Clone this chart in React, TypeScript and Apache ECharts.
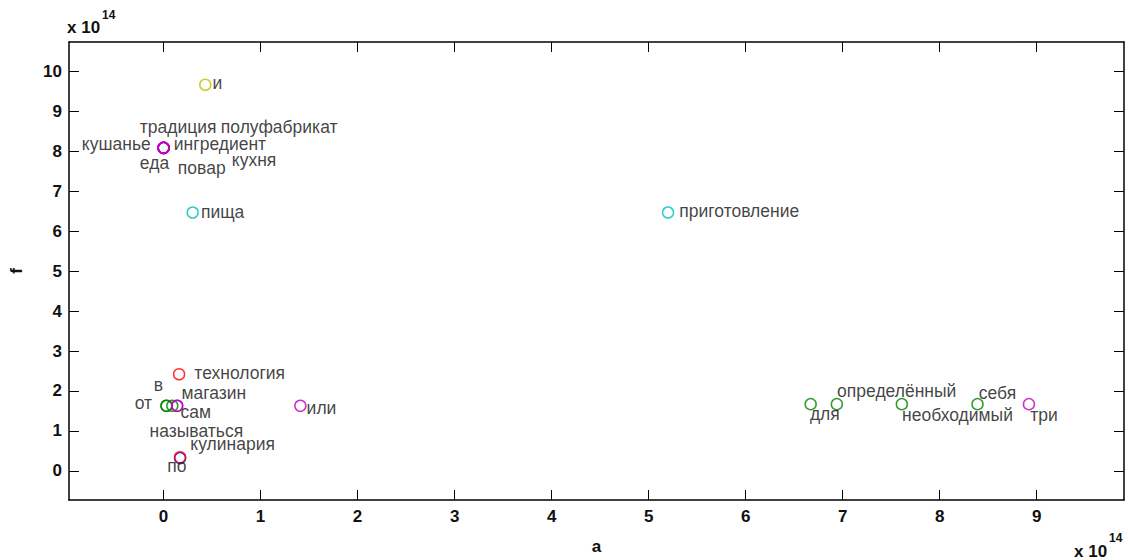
import React, { useEffect, useRef } from "react";
import * as echarts from "echarts";

// ---- data (values in units of 10^14) ----
const words = [
  "и",
  "традиция", "полуфабрикат", "кушанье", "ингредиент", "еда", "повар", "кухня",
  "пища", "приготовление",
  "технология",
  "в", "от", "называться",
  "магазин", "сам",
  "по", "кулинария",
  "или",
  "для", "определённый", "необходимый", "себя", "три",
];
const aValues = [
  0.43,
  0.0, 0.0, 0.0, 0.0, 0.0, 0.0, 0.0,
  0.30, 5.20,
  0.16,
  0.03, 0.03, 0.09,
  0.14, 0.14,
  0.17, 0.17,
  1.41,
  6.67, 6.94, 7.61, 8.39, 8.92,
];
const fValues = [
  9.67,
  8.09, 8.09, 8.09, 8.09, 8.09, 8.09, 8.09,
  6.47, 6.47,
  2.42,
  1.63, 1.63, 1.63,
  1.63, 1.63,
  0.32, 0.34,
  1.63,
  1.67, 1.67, 1.67, 1.67, 1.67,
];
// cluster id of each word
const clusters = [
  5,
  4, 4, 4, 4, 4, 4, 4,
  3, 3,
  2,
  1, 1, 1,
  4, 4,
  0, 2,
  4,
  1, 1, 1, 1, 4,
];
const xTicks = [0, 1, 2, 3, 4, 5, 6, 7, 8, 9];
const yTicks = [0, 1, 2, 3, 4, 5, 6, 7, 8, 9, 10];

// ---- presentation ----
const palette = ["#0000ff", "#008000", "#ff0000", "#00bfbf", "#bf00bf", "#bfbf00"];
// label offsets [dx, dy] from point centre to text left / middle
const labelOffsets: number[][] = [
  [8, -1],
  [-23, -20], [58, -20], [-81, -3], [11, -3], [-23, 16], [15, 21], [69, 13],
  [9, 0], [12, -1],
  [16, 0],
  [-12, -20], [-31, -2], [-22, 26],
  [5, -12], [4, 7],
  [-12, 9], [11, -13],
  [7, 3],
  [0, 11], [1, -12], [1, 12], [2, -10], [2, 12],
];

const SYM = 11;
const tickFont = {
  fontFamily: "'Liberation Sans Narrow', 'Liberation Sans', Arial, sans-serif",
  fontWeight: "bold" as const,
  fontSize: 17,
  color: "#111",
};

export default function App() {
  const ref = useRef<HTMLDivElement>(null);
  useEffect(() => {
    document.body.style.margin = "0";
    const chart = echarts.init(ref.current!, null, { renderer: "svg" });
    const data = words.map((w, i) => ({
      name: w,
      value: [aValues[i], fValues[i]],
      itemStyle: {
        color: "rgba(0,0,0,0)",
        borderColor: palette[clusters[i]],
        borderWidth: 1.5,
      },
      label: {
        position: [labelOffsets[i][0] + SYM / 2, labelOffsets[i][1] + SYM / 2],
      },
    }));
    const axisLine = { show: true, onZero: false, lineStyle: { color: "#000", width: 1.5 } };
    chart.setOption({
      animation: false,
      backgroundColor: "#fff",
      grid: { left: 68, top: 42, right: 4, bottom: 60, containLabel: false },
      xAxis: [
        {
          type: "value",
          min: -0.975,
          max: 9.9,
          position: "bottom",
          axisLine,
          axisTick: { show: true, inside: true, length: 10, customValues: xTicks, lineStyle: { color: "#000", width: 1 } },
          axisLabel: { show: true, customValues: xTicks, margin: 8, ...tickFont },
          splitLine: { show: false },
          name: "a",
          nameLocation: "middle",
          nameGap: 38,
          nameTextStyle: { ...tickFont },
        },
        {
          type: "value",
          min: -0.975,
          max: 9.9,
          position: "top",
          axisLine,
          axisTick: { show: true, inside: true, length: 10, customValues: xTicks, lineStyle: { color: "#000", width: 1 } },
          axisLabel: { show: false },
          splitLine: { show: false },
        },
      ],
      yAxis: [
        {
          type: "value",
          min: -0.73,
          max: 10.74,
          position: "left",
          axisLine,
          axisTick: { show: true, inside: true, length: 10, customValues: yTicks, lineStyle: { color: "#000", width: 1 } },
          axisLabel: { show: true, customValues: yTicks, margin: 7, ...tickFont },
          splitLine: { show: false },
          name: "f",
          nameLocation: "middle",
          nameGap: 44,
          nameRotate: 90,
          nameTextStyle: { ...tickFont },
        },
        {
          type: "value",
          min: -0.73,
          max: 10.74,
          position: "right",
          axisLine,
          axisTick: { show: true, inside: true, length: 10, customValues: yTicks, lineStyle: { color: "#000", width: 1 } },
          axisLabel: { show: false },
          splitLine: { show: false },
        },
      ],
      series: [
        {
          type: "scatter",
          xAxisIndex: 0,
          yAxisIndex: 0,
          symbol: "circle",
          symbolSize: SYM,
          data,
          label: {
            show: true,
            formatter: "{b}",
            align: "left",
            verticalAlign: "middle",
            fontFamily: "'Liberation Sans', Arial, sans-serif",
            fontSize: 17.5,
            color: "#111",
          },
          emphasis: { disabled: true },
        },
      ],
      graphic: [
        { type: "text", left: 67, top: 19, style: { text: "x 10", fontFamily: tickFont.fontFamily, fontWeight: "bold", fontSize: 17, fill: "#111" } },
        { type: "text", left: 102, top: 9, style: { text: "14", fontFamily: tickFont.fontFamily, fontWeight: "bold", fontSize: 12, fill: "#111" } },
        { type: "text", left: 1074, top: 543, style: { text: "x 10", fontFamily: tickFont.fontFamily, fontWeight: "bold", fontSize: 17, fill: "#111" } },
        { type: "text", left: 1109, top: 532, style: { text: "14", fontFamily: tickFont.fontFamily, fontWeight: "bold", fontSize: 12, fill: "#111" } },
      ],
    });
    return () => chart.dispose();
  }, []);
  return (
    <div
      ref={ref}
      style={{ position: "fixed", left: 0, top: 0, width: 1128, height: 560 }}
    />
  );
}
